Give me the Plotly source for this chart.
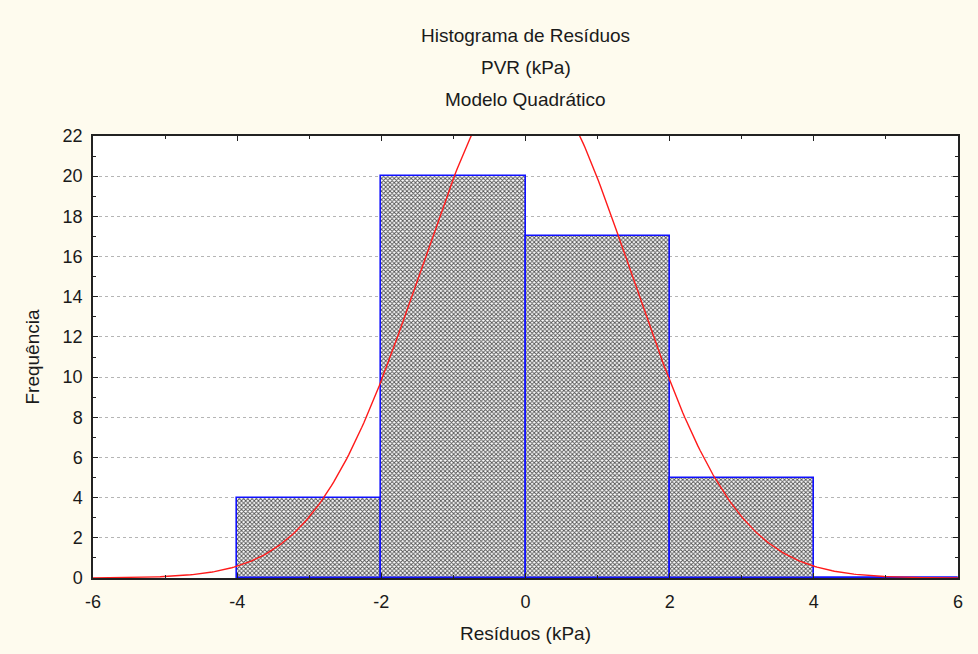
import numpy as np
import plotly.graph_objects as go

# Histogram bins (left edges) and counts
bin_left = [-4, -2, 0, 2, 4]
bin_width = 2
counts = [4, 20, 17, 5, 0]

# Fitted normal curve parameters
fit_mean = 0.0
fit_sd = 1.46
n_obs = sum(counts)

x_ticks = [-6, -4, -2, 0, 2, 4, 6]
y_ticks = list(range(0, 23, 2))
title_lines = ["Histograma de Resíduos", "PVR (kPa)", "Modelo Quadrático"]

bin_centers = [b + bin_width / 2 for b in bin_left]

xs = np.linspace(-6, 6, 400)
ys = n_obs * bin_width * np.exp(-0.5 * ((xs - fit_mean) / fit_sd) ** 2) / (fit_sd * np.sqrt(2 * np.pi))

BLUE = "#1010ff"
FONT = "Liberation Sans, Arial, sans-serif"

fig = go.Figure()
fig.add_trace(go.Bar(
    x=bin_centers, y=counts, width=bin_width,
    marker=dict(
        color="white",
        line=dict(color=BLUE, width=1.6),
        pattern=dict(shape="x", size=3, solidity=0.5, fgcolor="#505050", bgcolor="white", fillmode="replace"),
    ),
    showlegend=False, hoverinfo="skip",
))
# zero-height bins drawn as flat outline
zero_x, zero_y = [], []
for b, c in zip(bin_left, counts):
    if c == 0:
        zero_x += [b, b + bin_width, None]
        zero_y += [c, c, None]
fig.add_trace(go.Scatter(x=zero_x, y=zero_y, mode="lines", line=dict(color=BLUE, width=3),
                         showlegend=False, hoverinfo="skip", cliponaxis=False))
fig.add_trace(go.Scatter(
    x=xs, y=ys, mode="lines", line=dict(color="#ff1a1a", width=1.4),
    showlegend=False, hoverinfo="skip",
))

annotations = []
for i, t in enumerate(title_lines):
    annotations.append(dict(
        text=t, xref="paper", yref="paper", x=0.5, xanchor="center",
        y=1 + (136 - (36 + 31.5 * i)) / 442, yanchor="middle", showarrow=False,
        font=dict(family=FONT, size=19, color="#1a1a1a"),
    ))

fig.update_layout(
    width=978, height=654,
    paper_bgcolor="#fefbee",
    plot_bgcolor="white",
    bargap=0,
    font=dict(family=FONT, size=18, color="#1a1a1a"),
    margin=dict(l=93, r=20, t=136, b=76),
    annotations=annotations,
    xaxis=dict(
        range=[-6, 6], tickvals=x_ticks, ticktext=[str(v) for v in x_ticks],
        ticks="inside", ticklen=5, tickcolor="#222", mirror="ticks",
        showline=True, linecolor="#222", linewidth=1.5,
        showgrid=False, zeroline=False, ticklabelstandoff=7,
        minor=dict(dtick=1, ticks="inside", ticklen=3, tickcolor="#222"),
        title=dict(text="Resíduos (kPa)", standoff=15, font=dict(size=19)),
    ),
    yaxis=dict(
        range=[0, 22], tickvals=y_ticks, ticktext=[str(v) for v in y_ticks],
        ticks="inside", ticklen=5, tickcolor="#222", mirror="ticks",
        showline=True, linecolor="#222", linewidth=1.5,
        showgrid=True, gridcolor="#b5b5b5", griddash="dot", gridwidth=1,
        zeroline=False, ticklabelstandoff=5,
        minor=dict(dtick=1, ticks="inside", ticklen=3, tickcolor="#222"),
        title=dict(text="Frequência", standoff=18, font=dict(size=19)),
    ),
)

fig.write_html("out.html", config={"displayModeBar": False},
               post_script="document.body.style.margin='0';document.body.style.background='#fefbee';")
